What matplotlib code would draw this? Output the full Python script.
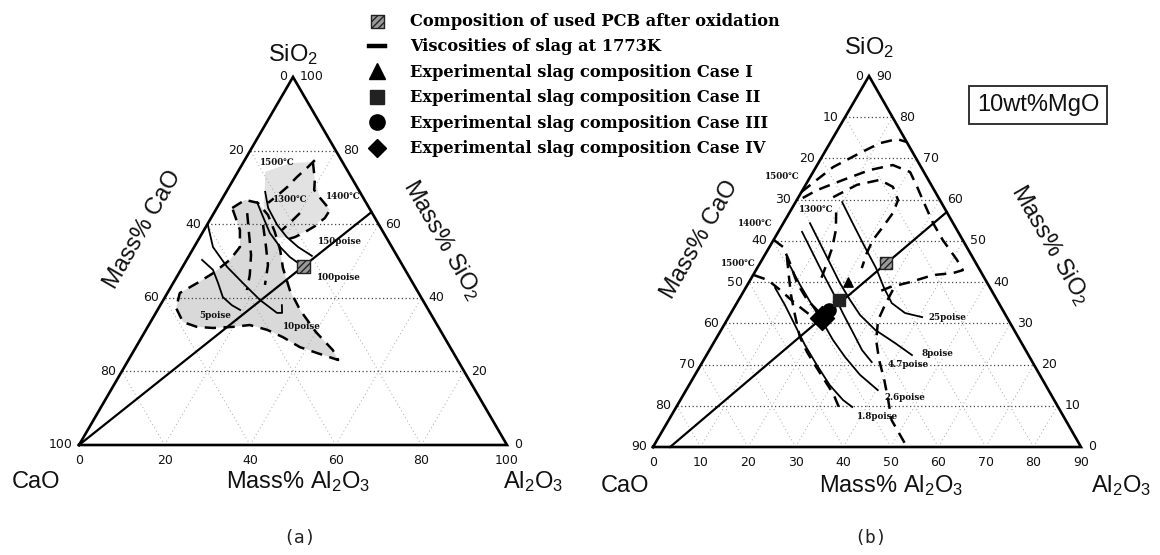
import matplotlib
matplotlib.use("Agg")
import matplotlib.pyplot as plt
from matplotlib.transforms import Affine2D
from matplotlib.lines import Line2D
from matplotlib.font_manager import FontProperties

# ===================== DATA (mass %, points given as Al2O3, SiO2) =====================
# ---- panel (a): CaO-SiO2-Al2O3, 0-100 %
A_TOTAL = 100
A_TICKS = [0, 20, 40, 60, 80, 100]
A_GRID = [20, 40, 60, 80]

a_mix_al = [0.0, 36.7]
a_mix_si = [0.0, 63.3]
a_pcb_al = [28.2]
a_pcb_si = [48.6]

# iso-viscosity lines at 1773 K
a_v150_al = [9.1, 12.0, 16.4, 20.3, 24.3, 28.7]
a_v150_si = [68.8, 64.4, 59.8, 56.5, 53.8, 51.4]
a_v100_al = [8.6, 12.0, 15.8, 20.1, 23.7, 26.4]
a_v100_si = [66.0, 62.0, 57.6, 53.8, 51.1, 49.5]
a_v10_al = [0.2, 4.4, 10.4, 16.3, 22.6, 28.3, 29.5, 28.4]
a_v10_si = [59.8, 53.8, 48.4, 44.0, 39.4, 35.9, 35.9, 38.0]
a_v5_al = [3.6, 7.5, 10.5, 13.5, 16.7, 19.3]
a_v5_si = [50.3, 47.6, 44.0, 40.2, 38.0, 36.7]

# liquidus isotherms (dashed)
a_low_al = [3.6, 5.5, 8.9, 12.9, 16.8, 20.5, 23.6, 28.2, 33.3, 40.0, 46.4, 49.0, 43.1, 38.3,
            33.0, 28.3, 23.6, 19.9, 15.4, 11.5, 7.6, 4.1, 2.9, 5.6, 8.0, 10.1, 10.7, 8.4, 3.6]
a_low_si = [64.4, 66.6, 65.8, 62.5, 57.9, 53.0, 48.1, 42.1, 36.7, 30.7, 25.8, 23.1, 25.0, 26.6,
            29.3, 31.3, 32.6, 32.1, 31.8, 32.1, 33.4, 37.2, 41.3, 44.0, 46.7, 50.3, 53.8, 58.4, 64.4]
a_up1_al = [16.4, 15.7, 14.5, 13.6, 12.4, 11.3]
a_up1_si = [77.4, 75.5, 72.8, 70.1, 67.7, 65.8]
a_up2_al = [16.2, 19.1, 20.3, 22.8, 26.7, 26.6, 25.4, 23.9, 22.2, 20.3]
a_up2_si = [76.9, 72.0, 69.3, 67.1, 63.9, 61.7, 59.5, 57.9, 56.5, 55.7]
a_up3_al = [20.1, 19.2, 18.2]
a_up3_si = [63.0, 60.6, 58.4]
a_m1_al = [7.8, 11.2, 14.4, 16.8, 18.2]
a_m1_si = [63.0, 57.1, 51.6, 46.2, 42.1]
a_m2_al = [13.1, 16.5, 19.7, 21.7]
a_m2_si = [59.8, 54.3, 48.9, 43.5]
# liquid-region shading (upper part)
a_shade_al = [6.4, 11.0, 16.2, 19.1, 22.8, 26.7, 25.4, 22.2, 18.4, 14.3, 10.6, 8.1]
a_shade_si = [74.2, 76.6, 76.9, 72.0, 67.1, 63.9, 59.5, 56.5, 56.3, 59.8, 65.2, 70.7]

a_labels = ["1500\u2103", "1300\u2103", "1400\u2103", "150poise", "100poise", "5poise", "10poise"]
a_lab_al = [7.8, 16.0, 28.0, 33.4, 38.1, 14.1, 36.0]
a_lab_si = [76.9, 66.6, 67.4, 55.2, 45.4, 35.3, 32.1]

# ---- panel (b): 10 wt% MgO section, CaO+SiO2+Al2O3 = 90 %
B_TOTAL = 90
B_TICKS = [0, 10, 20, 30, 40, 50, 60, 70, 80, 90]
B_GRID = [10, 20, 30, 40, 50, 60, 70, 80]

b_mix_al = [3.6, 33.0]
b_mix_si = [0.0, 57.0]
b_pcb_al = [26.5]
b_pcb_si = [44.6]
b_case1 = (20.8, 40.0)
b_case2 = (21.0, 35.7)
b_case3 = (20.2, 33.2)
b_case4 = (19.7, 31.3)

b_v25_al = [9.8, 14.3, 19.6, 25.0, 29.1, 32.6, 36.6, 40.7]
b_v25_si = [59.4, 54.6, 49.0, 43.4, 38.6, 34.9, 32.5, 31.5]
b_v8_al = [5.6, 10.1, 14.7, 19.2, 23.4, 27.4, 32.4, 38.2, 43.2]
b_v8_si = [54.3, 49.5, 44.6, 39.8, 35.7, 32.0, 28.4, 25.2, 22.3]
b_v47_al = [5.0, 9.6, 14.1, 19.0, 23.5, 28.1, 32.1, 35.6]
b_v47_si = [52.2, 47.3, 42.5, 37.4, 32.5, 27.7, 23.5, 20.6]
b_v26_al = [5.7, 11.1, 16.1, 20.4, 24.7, 29.4, 34.7, 40.3]
b_v26_si = [44.9, 39.3, 34.4, 30.3, 26.0, 21.8, 17.5, 13.8]
b_v18_al = [6.2, 10.4, 14.9, 19.5, 24.4, 29.6, 34.2, 37.0]
b_v18_si = [38.6, 34.4, 29.6, 24.7, 19.9, 15.0, 11.4, 9.7]

b_d1_al = [0.0, 3.6, 7.5, 10.5, 13.6, 16.0]
b_d1_si = [61.9, 67.9, 71.3, 73.7, 74.7, 74.0]
b_d2_al = [1.0, 3.0, 7.3, 11.7, 15.9, 20.4, 23.7, 26.5, 31.5, 35.6, 41.0, 43.5, 41.8, 37.8, 33.9, 30.3, 28.3]
b_d2_si = [60.4, 62.3, 64.8, 67.2, 68.4, 66.7, 63.1, 59.9, 54.3, 50.2, 45.4, 42.9, 42.2, 41.7, 40.0, 38.8, 37.6]
b_d3_al = [7.3, 10.8, 15.0, 18.6, 21.3, 21.8, 21.4, 20.9, 21.2, 22.0]
b_d3_si = [60.6, 63.6, 64.8, 63.1, 59.9, 56.8, 53.4, 50.2, 47.1, 43.4]
b_d4_al = [9.8, 11.9, 13.3, 14.2, 14.9]
b_d4_si = [56.9, 52.6, 48.3, 43.9, 40.0]
b_d5_al = [0.1, 2.9, 6.3, 10.2, 14.4, 18.7]
b_d5_si = [50.2, 48.5, 44.6, 39.8, 35.7, 32.5]
b_d6_al = [0.2, 3.7, 7.5, 12.2, 16.9]
b_d6_si = [41.7, 40.5, 38.1, 34.9, 32.0]
b_d7_al = [4.9, 7.5, 10.4, 13.7, 17.4, 20.8, 24.0, 27.8, 31.4, 34.8]
b_d7_si = [46.1, 41.7, 36.9, 32.0, 26.7, 23.0, 19.9, 16.3, 12.9, 9.0]
b_d8_al = [31.2, 31.4, 31.8, 33.8, 36.9, 40.4, 43.7, 46.9, 50.5, 53.4]
b_d8_si = [38.1, 34.4, 30.8, 26.0, 21.1, 16.3, 11.4, 6.5, 2.9, 0.0]

b_labels = ["1500\u2103", "1300\u2103", "1400\u2103", "1500\u2103",
            "25poise", "8poise", "4.7poise", "2.6poise", "1.8poise"]
b_lab_al = [-5.9, 5.3, -5.95, -4.6, 46.2, 48.4, 43.6, 46.9, 43.6]
b_lab_si = [65.5, 57.5, 54.3, 44.6, 31.3, 22.8, 19.9, 12.1, 7.3]

legend_labels = ["Composition of used PCB after oxidation",
                 "Viscosities of slag at 1773K",
                 "Experimental slag composition Case I",
                 "Experimental slag composition Case II",
                 "Experimental slag composition Case III",
                 "Experimental slag composition Case IV"]

# ===================== FIGURE =====================
plt.rcParams['font.family'] = ['Liberation Sans', 'DejaVu Sans']
fig = plt.figure(figsize=(11.6, 5.55), dpi=100)
ax = fig.add_axes([0, 0, 1, 1])
ax.set_xlim(0, 1160)
ax.set_ylim(555, 0)
ax.axis('off')


def tern(ca, al, si, total):
    m = Affine2D.from_values((al[0] - ca[0]) / total, (al[1] - ca[1]) / total,
                             (si[0] - ca[0]) / total, (si[1] - ca[1]) / total,
                             ca[0], ca[1])
    return m + ax.transData


TA = tern((79, 445), (507, 445), (293, 77), A_TOTAL)
TB = tern((653, 447), (1081, 447), (869, 76), B_TOTAL)

TICK_FONT = dict(family='DejaVu Sans', fontsize=9, color='#111')
SMALL_FONT = dict(family='DejaVu Serif', fontsize=6.3, fontweight='bold', color='#111')


def frame(T, total, grid, ticks):
    for v in grid:
        ax.plot([v, v], [0, total - v], transform=T, color='#a8a8a8', lw=0.7,
                ls=(0, (1, 3)), zorder=1)
        ax.plot([total - v, 0], [0, total - v], transform=T, color='#a8a8a8', lw=0.7,
                ls=(0, (1, 3)), zorder=1)
        ax.plot([0, total - v], [v, v], transform=T, color='#444', lw=0.9,
                ls=(0, (1, 2)), zorder=1)
    ax.plot([0, total, 0, 0], [0, 0, total, 0], transform=T, color='k', lw=1.9,
            solid_joinstyle='miter', zorder=6)
    for v in ticks:
        ax.annotate(str(v), xy=(0, total - v), xycoords=T, xytext=(-6, 0),
                    textcoords='offset pixels', ha='right', va='center', **TICK_FONT)
        ax.annotate(str(v), xy=(total - v, v), xycoords=T, xytext=(7, 0),
                    textcoords='offset pixels', ha='left', va='center', **TICK_FONT)
        ax.annotate(str(v), xy=(v, 0), xycoords=T, xytext=(0, -9),
                    textcoords='offset pixels', ha='center', va='top', **TICK_FONT)


def solid(T, al, si):
    ax.plot(al, si, transform=T, color='k', lw=1.3, zorder=4)


def dashed(T, al, si):
    ax.plot(al, si, transform=T, color='k', lw=1.8, ls=(0, (4.5, 3)), zorder=3)


# ---------------- panel (a) ----------------
ax.fill(a_low_al, a_low_si, transform=TA, color='#d9d9d9', lw=0, zorder=0.5)
ax.fill(a_shade_al, a_shade_si, transform=TA, color='#e2e2e2', lw=0, zorder=0.5)
frame(TA, A_TOTAL, A_GRID, A_TICKS)
for al, si in [(a_v150_al, a_v150_si), (a_v100_al, a_v100_si),
               (a_v10_al, a_v10_si), (a_v5_al, a_v5_si)]:
    solid(TA, al, si)
for al, si in [(a_low_al, a_low_si), (a_up1_al, a_up1_si), (a_up2_al, a_up2_si),
               (a_up3_al, a_up3_si), (a_m1_al, a_m1_si), (a_m2_al, a_m2_si)]:
    dashed(TA, al, si)
ax.plot(a_mix_al, a_mix_si, transform=TA, color='k', lw=1.6, zorder=5)
pcb = ax.scatter(a_pcb_al, a_pcb_si, transform=TA, marker='s', s=90, facecolor='#9a9a9a',
                 edgecolor='#222', hatch='/////', linewidths=1.0, zorder=7)
for t, al, si in zip(a_labels, a_lab_al, a_lab_si):
    ax.text(al, si, t, transform=TA, ha='center', va='center', zorder=8, **SMALL_FONT)

# ---------------- panel (b) ----------------
frame(TB, B_TOTAL, B_GRID, B_TICKS)
for al, si in [(b_v25_al, b_v25_si), (b_v8_al, b_v8_si), (b_v47_al, b_v47_si),
               (b_v26_al, b_v26_si), (b_v18_al, b_v18_si)]:
    solid(TB, al, si)
for al, si in [(b_d1_al, b_d1_si), (b_d2_al, b_d2_si), (b_d3_al, b_d3_si),
               (b_d4_al, b_d4_si), (b_d5_al, b_d5_si), (b_d6_al, b_d6_si),
               (b_d7_al, b_d7_si), (b_d8_al, b_d8_si)]:
    dashed(TB, al, si)
ax.plot(b_mix_al, b_mix_si, transform=TB, color='k', lw=1.6, zorder=5)
ax.scatter(b_pcb_al, b_pcb_si, transform=TB, marker='s', s=80, facecolor='#9a9a9a',
           edgecolor='#222', hatch='/////', linewidths=1.0, zorder=7)
ax.scatter([b_case4[0]], [b_case4[1]], transform=TB, marker='D', s=150, color='k', zorder=7)
ax.scatter([b_case3[0]], [b_case3[1]], transform=TB, marker='o', s=90, color='k', zorder=7)
ax.scatter([b_case2[0]], [b_case2[1]], transform=TB, marker='s', s=70, color='#222', zorder=7)
ax.scatter([b_case1[0]], [b_case1[1]], transform=TB, marker='^', s=45, color='k', zorder=7)
for t, al, si in zip(b_labels, b_lab_al, b_lab_si):
    ax.text(al, si, t, transform=TB, ha='center', va='center', zorder=8, **SMALL_FONT)

# ---------------- axis names / captions (layout in pixels) ----------------
NAME = dict(fontsize=17, color='#111')
ax.text(293, 55, r'$\mathregular{SiO_2}$', ha='center', va='center', **NAME)
ax.text(36, 482, 'CaO', ha='center', va='center', **NAME)
ax.text(298, 482, r'Mass% $\mathregular{Al_2O_3}$', ha='center', va='center', **NAME)
ax.text(533, 482, r'$\mathregular{Al_2O_3}$', ha='center', va='center', **NAME)
ax.text(143, 230, 'Mass% CaO', rotation=60, ha='center', va='center', **NAME)
ax.text(442, 240, r'Mass% $\mathregular{SiO_2}$', rotation=-60, ha='center', va='center', **NAME)

ax.text(869, 48, r'$\mathregular{SiO_2}$', ha='center', va='center', **NAME)
ax.text(625, 486, 'CaO', ha='center', va='center', **NAME)
ax.text(891, 486, r'Mass% $\mathregular{Al_2O_3}$', ha='center', va='center', **NAME)
ax.text(1121, 486, r'$\mathregular{Al_2O_3}$', ha='center', va='center', **NAME)
ax.text(700, 240, 'Mass% CaO', rotation=60, ha='center', va='center', **NAME)
ax.text(1050, 245, r'Mass% $\mathregular{SiO_2}$', rotation=-60, ha='center', va='center', **NAME)

ax.text(1038, 105, '10wt%MgO', ha='center', va='center', fontsize=17, color='#111',
        bbox=dict(boxstyle='square,pad=0.35', fc='white', ec='#333', lw=1.4))

ax.text(300, 538, '(a)', ha='center', va='center', family='DejaVu Sans Mono', fontsize=13, color='#222')
ax.text(871, 538, '(b)', ha='center', va='center', family='DejaVu Sans Mono', fontsize=13, color='#222')

# ---------------- legend ----------------
handles = [pcb,
           Line2D([], [], color='k', lw=3.2),
           Line2D([], [], marker='^', ls='none', ms=11, color='k'),
           Line2D([], [], marker='s', ls='none', ms=10, color='#222'),
           Line2D([], [], marker='o', ls='none', ms=11, color='k'),
           Line2D([], [], marker='D', ls='none', ms=9, color='k')]
fig.legend(handles, legend_labels, loc='upper left',
           bbox_to_anchor=(369 / 1160, 1 - 13 / 555), frameon=False,
           prop=FontProperties(family='DejaVu Serif', weight='bold', size=11.7),
           handlelength=1.0, handletextpad=1.52, labelspacing=0.52,
           borderpad=0, borderaxespad=0, scatterpoints=1, markerscale=1.0)

fig.savefig('out.png', dpi=100, facecolor='white')
